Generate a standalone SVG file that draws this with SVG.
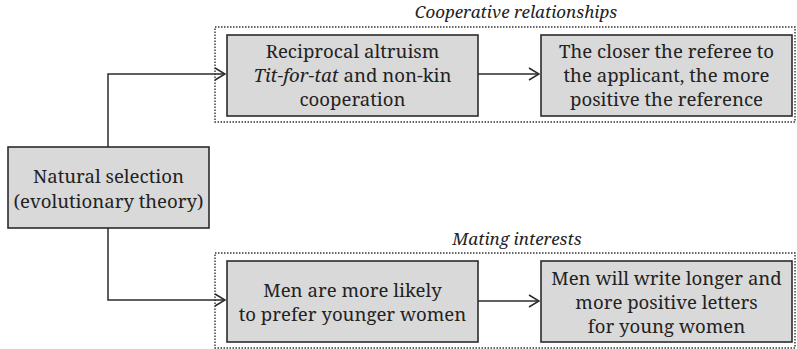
<svg xmlns="http://www.w3.org/2000/svg" width="797" height="349" viewBox="0 0 797 349">
  <style>
    .box { fill: #d9d9d9; stroke: #2b2b2b; stroke-width: 1.6; }
    .group { fill: none; stroke: #333; stroke-width: 1.4; stroke-dasharray: 1.5 1.5; }
    text { font-family: "Noto Serif", "DejaVu Serif", serif; fill: #222; text-anchor: middle; }
    .txt { font-size: 18.6px; }
    .lbl { font-size: 17px; font-style: italic; }
    .link { fill: none; stroke: #2b2b2b; stroke-width: 1.5; }
  </style>
  <defs>
    <marker id="open" viewBox="0 0 12 14" refX="11" refY="7" markerWidth="12" markerHeight="14" markerUnits="userSpaceOnUse" orient="auto">
      <path d="M1,1 L11,7 L1,13" fill="none" stroke="#2b2b2b" stroke-width="1.5"/>
    </marker>
  </defs>
  <rect width="797" height="349" fill="#ffffff"/>

  <!-- dotted groupings with their captions -->
  <g id="group-cooperative">
    <rect class="group" x="215" y="27" width="580" height="95"/>
    <text class="lbl" x="516" y="18">Cooperative relationships</text>
  </g>
  <g id="group-mating">
    <rect class="group" x="215" y="253" width="580" height="95"/>
    <text class="lbl" x="517" y="245">Mating interests</text>
  </g>

  <!-- connectors -->
  <g id="connectors">
    <path class="link" d="M108,147 V74 H225" marker-end="url(#open)"/>
    <path class="link" d="M108,228 V300 H225" marker-end="url(#open)"/>
    <path class="link" d="M478,74 H539" marker-end="url(#open)"/>
    <path class="link" d="M478,301 H539" marker-end="url(#open)"/>
  </g>

  <g id="natural-selection">
    <rect class="box" x="8" y="147" width="201" height="81"/>
    <text class="txt" x="108.5" y="183">Natural selection</text>
    <text class="txt" x="108.5" y="208">(evolutionary theory)</text>
  </g>

  <g id="reciprocal-altruism">
    <rect class="box" x="227" y="35" width="251" height="81"/>
    <text class="txt" x="352.5" y="58">Reciprocal altruism</text>
    <text class="txt" x="352.5" y="82"><tspan font-style="italic">Tit-for-tat</tspan> and non-kin</text>
    <text class="txt" x="352.5" y="106">cooperation</text>
  </g>

  <g id="closer-referee">
    <rect class="box" x="541" y="35" width="251" height="81"/>
    <text class="txt" x="666.5" y="58">The closer the referee to</text>
    <text class="txt" x="666.5" y="82">the applicant, the more</text>
    <text class="txt" x="666.5" y="106">positive the reference</text>
  </g>

  <g id="prefer-younger">
    <rect class="box" x="227" y="261" width="251" height="81"/>
    <text class="txt" x="352.5" y="297">Men are more likely</text>
    <text class="txt" x="352.5" y="321">to prefer younger women</text>
  </g>

  <g id="longer-letters">
    <rect class="box" x="541" y="261" width="251" height="81"/>
    <text class="txt" x="666.5" y="285">Men will write longer and</text>
    <text class="txt" x="666.5" y="309">more positive letters</text>
    <text class="txt" x="666.5" y="333">for young women</text>
  </g>
</svg>
